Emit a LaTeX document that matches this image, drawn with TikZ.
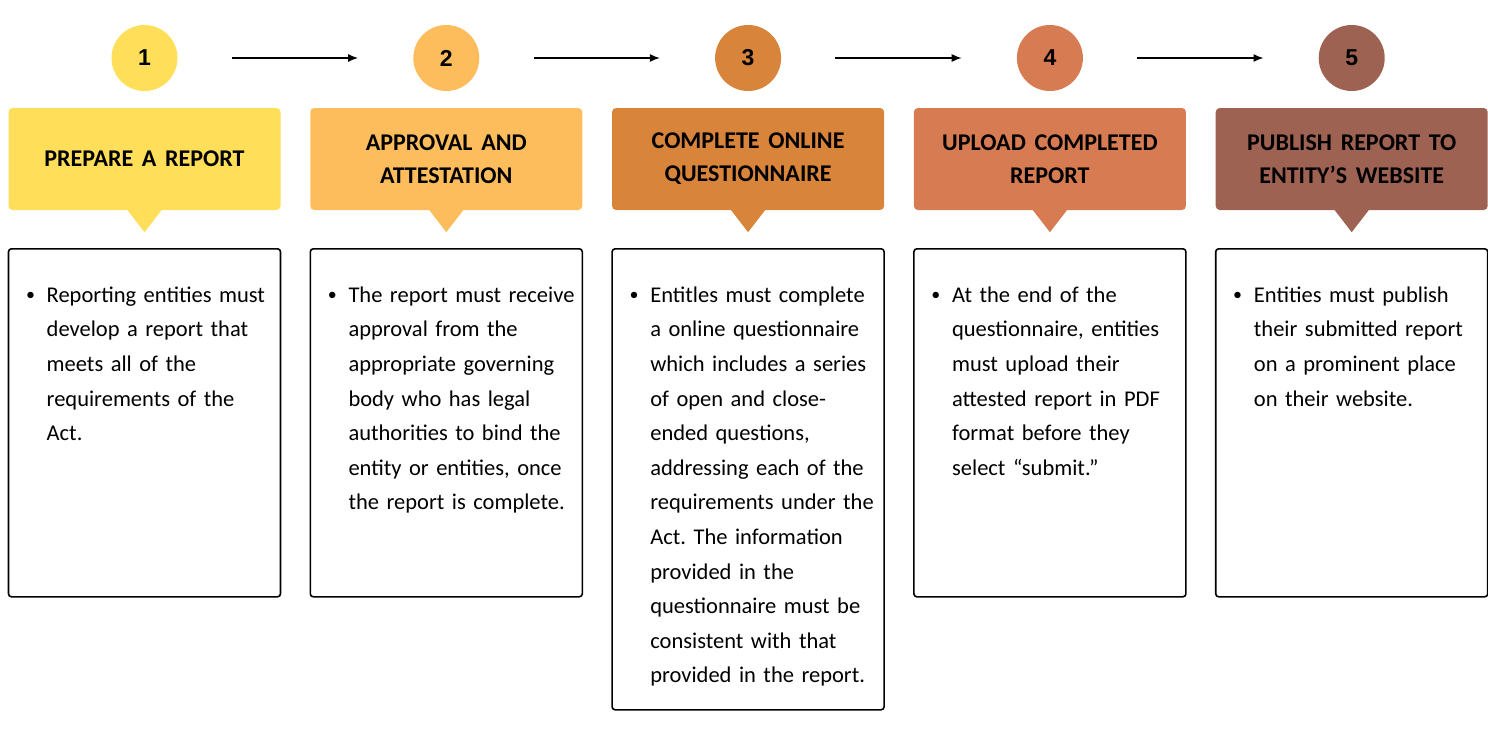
\documentclass[tikz,border=0pt]{standalone}
\usepackage{fontspec}
\setmainfont{Carlito}[WordSpace=0.6]
\newfontfamily\numfont{Liberation Sans}
\newfontfamily\headfont[WordSpace=1.6]{Carlito}
\usetikzlibrary{arrows.meta}
\frenchspacing
\definecolor{cA}{HTML}{FFDE59}
\definecolor{cB}{HTML}{FDBD5C}
\definecolor{cC}{HTML}{D8843A}
\definecolor{cD}{HTML}{D77B52}
\definecolor{cE}{HTML}{9D6252}
\tikzset{
  numc/.style={circle, minimum size=66pt, inner sep=0pt, font=\numfont\fontsize{23}{23}\selectfont\bfseries},
  headbox/.style={rounded corners=4pt, minimum width=272pt, minimum height=102pt, inner sep=0pt, align=center, font=\headfont\fontsize{24}{33}\selectfont\bfseries},
  bodybox/.style={draw=black, line width=1.6pt, rounded corners=3pt, minimum width=272pt, inner sep=0pt},
  bul/.style={anchor=base, inner sep=0pt, font=\fontsize{18}{20}\selectfont},
  bodytext/.style={anchor=north west, inner sep=0pt, text width=250pt, align=left, font=\fontsize{22.5}{34.6}\selectfont\frenchspacing},
  arr/.style={-{Latex[length=10pt,width=8pt]}, line width=1.4pt, shorten <=54pt, shorten >=55pt},
}
\newcommand\stepcol[6]{%
  \node[numc, fill=#3] (n#1) at (#2,58) {#1};
  \node[headbox, fill=#3] (h#1) at (#2,159) {#4};
  \fill[#3] ([xshift=-17pt]h#1.south) -- ([xshift=17pt]h#1.south) -- ([yshift=-22pt]h#1.south) -- cycle;
  \node[bodybox, anchor=north, minimum height=#6pt] (b#1) at (#2,248) {};
  \node[bul] (u#1) at ({#2-114},300) {•};
  \node[bodytext] (t#1) at ({#2-98},277.8) {\strut #5};
}
\begin{document}
\begin{tikzpicture}[x=1pt,y=-1pt]
\useasboundingbox (0,0) rectangle (1488,728);
\stepcol{1}{144.5}{cA}{PREPARE A REPORT}{Reporting entities must\\develop a report that\\meets all of the\\requirements of the\\Act.}{348}
\stepcol{2}{446.3}{cB}{APPROVAL AND\\ATTESTATION}{The report must receive\\approval from the\\appropriate governing\\body who has legal\\authorities to bind the\\entity or entities, once\\the report is complete.}{348}
\stepcol{3}{748.1}{cC}{COMPLETE ONLINE\\QUESTIONNAIRE}{Entitles must complete\\a online questionnaire\\which includes a series\\of open and close-\\ended questions,\\addressing each of the\\requirements under the\\Act. The information\\provided in the\\questionnaire must be\\consistent with that\\provided in the report.}{461}
\stepcol{4}{1049.9}{cD}{UPLOAD COMPLETED\\REPORT}{At the end of the\\questionnaire, entities\\must upload their\\attested report in PDF\\format before they\\select “submit.”}{348}
\stepcol{5}{1351.7}{cE}{PUBLISH REPORT TO\\ENTITY’S WEBSITE}{Entities must publish\\their submitted report\\on a prominent place\\on their website.}{348}
\draw[arr] (n1) -- (n2);
\draw[arr] (n2) -- (n3);
\draw[arr] (n3) -- (n4);
\draw[arr] (n4) -- (n5);
\end{tikzpicture}
\end{document}
